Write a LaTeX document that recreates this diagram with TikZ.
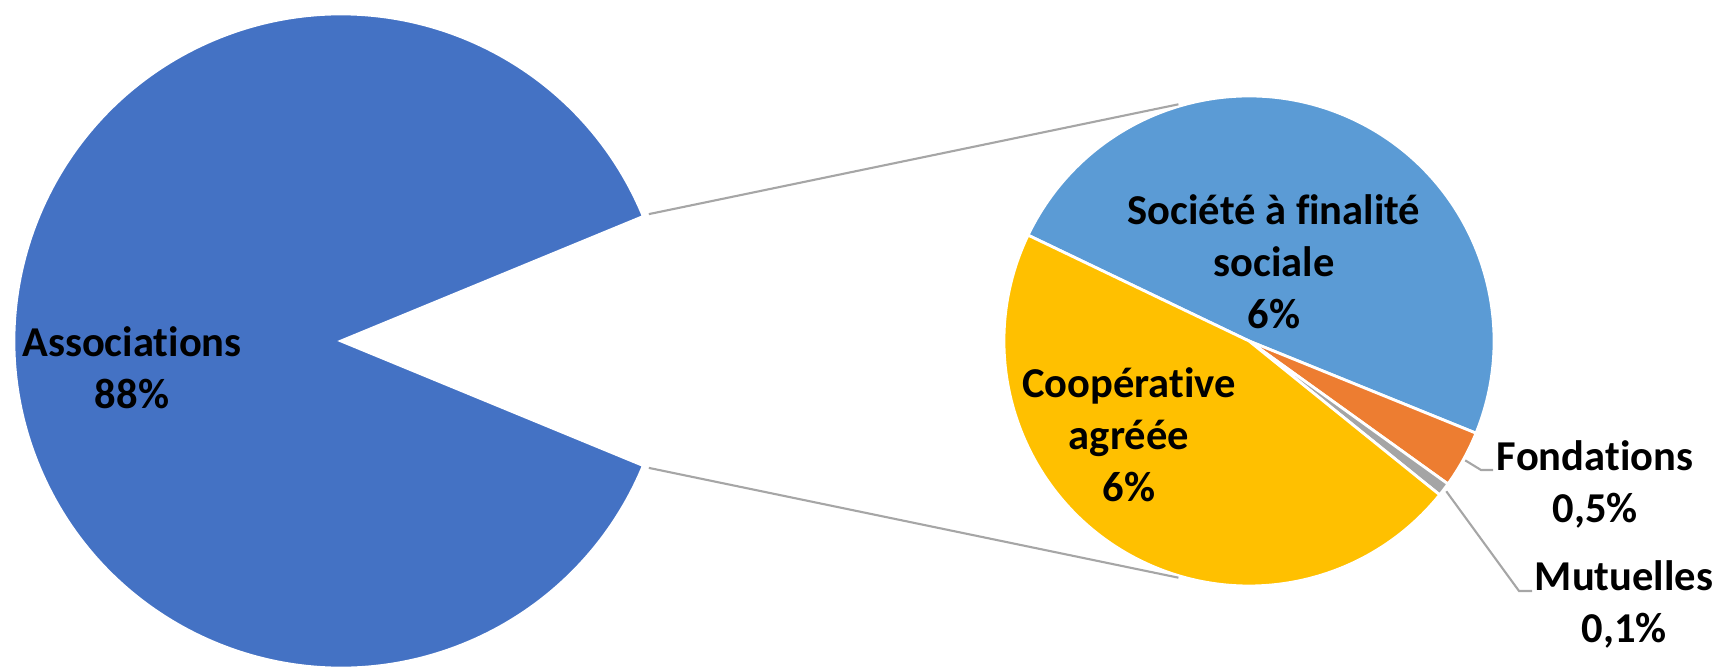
\documentclass[tikz,border=0pt]{standalone}
\usepackage{fontspec}
\setmainfont{Carlito}[Ligatures=NoCommon]
\usepackage{tikz}
\usetikzlibrary{positioning,calc}
\definecolor{assoc}{HTML}{4472C4}
\definecolor{sfs}{HTML}{5B9BD5}
\definecolor{coop}{HTML}{FFC000}
\definecolor{fond}{HTML}{ED7D31}
\definecolor{mutu}{HTML}{A5A5A5}
\definecolor{leadgray}{HTML}{A6A6A6}
\tikzset{
  slice/.style={draw=white, line width=0.8pt},
  lbl/.style={font=\fontsize{12.1}{14.8}\selectfont\bfseries, align=center, inner sep=0pt},
  conn/.style={draw=leadgray, line width=0.6pt}
}
\begin{document}
\begin{tikzpicture}[x=0.01cm,y=0.01cm]
\useasboundingbox (0,0) rectangle (1718,666);
\coordinate (big) at (341,325);
\coordinate (small) at (1249,325);
\filldraw[slice, fill=assoc] (big) -- ++(22.4:327) arc[start angle=22.4, end angle=337.6, radius=327] -- cycle;
\filldraw[slice, fill=sfs] (small) -- ++(-22.1:245) arc[start angle=-22.1, end angle=154.4, radius=245] -- cycle;
\filldraw[slice, fill=fond] (small) -- ++(-35.7:245) arc[start angle=-35.7, end angle=-22.1, radius=245] -- cycle;
\filldraw[slice, fill=mutu] (small) -- ++(-38.9:245) arc[start angle=-38.9, end angle=-35.7, radius=245] -- cycle;
\filldraw[slice, fill=coop] (small) -- ++(154.4:245) arc[start angle=154.4, end angle=321.1, radius=245] -- cycle;
\coordinate (bigup) at ($(big)+(22.4:333)$);
\coordinate (bigdown) at ($(big)+(-22.4:333)$);
\coordinate (smallup) at ($(small)+(106.6:247)$);
\coordinate (smalldown) at ($(small)+(-106.6:247)$);
\draw[conn] (bigup) -- (smallup);
\draw[conn] (bigdown) -- (smalldown);
\node[lbl] (assoclbl) at (132,298) {Associations\\88\%};
\node[lbl] (sfslbl) at (1274,404) {Société à finalité\\sociale\\6\%};
\node[lbl] (cooplbl) at (1129,231) {Coopérative\\agréée\\6\%};
\node[lbl] (fondlbl) at (1595,182) {Fondations\\0,5\%};
\node[lbl] (mutulbl) at (1624,62) {Mutuelles\\0,1\%};
\coordinate (fondtip) at ($(small)+(-28.9:247)$);
\coordinate (fondbend) at (1481,196);
\coordinate (fondend) at (1493,196);
\coordinate (mututip) at ($(small)+(-37.3:248)$);
\coordinate (mutubend) at (1519,75);
\coordinate (mutuend) at (1532,75);
\draw[conn] (fondtip) -- (fondbend) -- (fondend);
\draw[conn] (mututip) -- (mutubend) -- (mutuend);
\end{tikzpicture}
\end{document}
